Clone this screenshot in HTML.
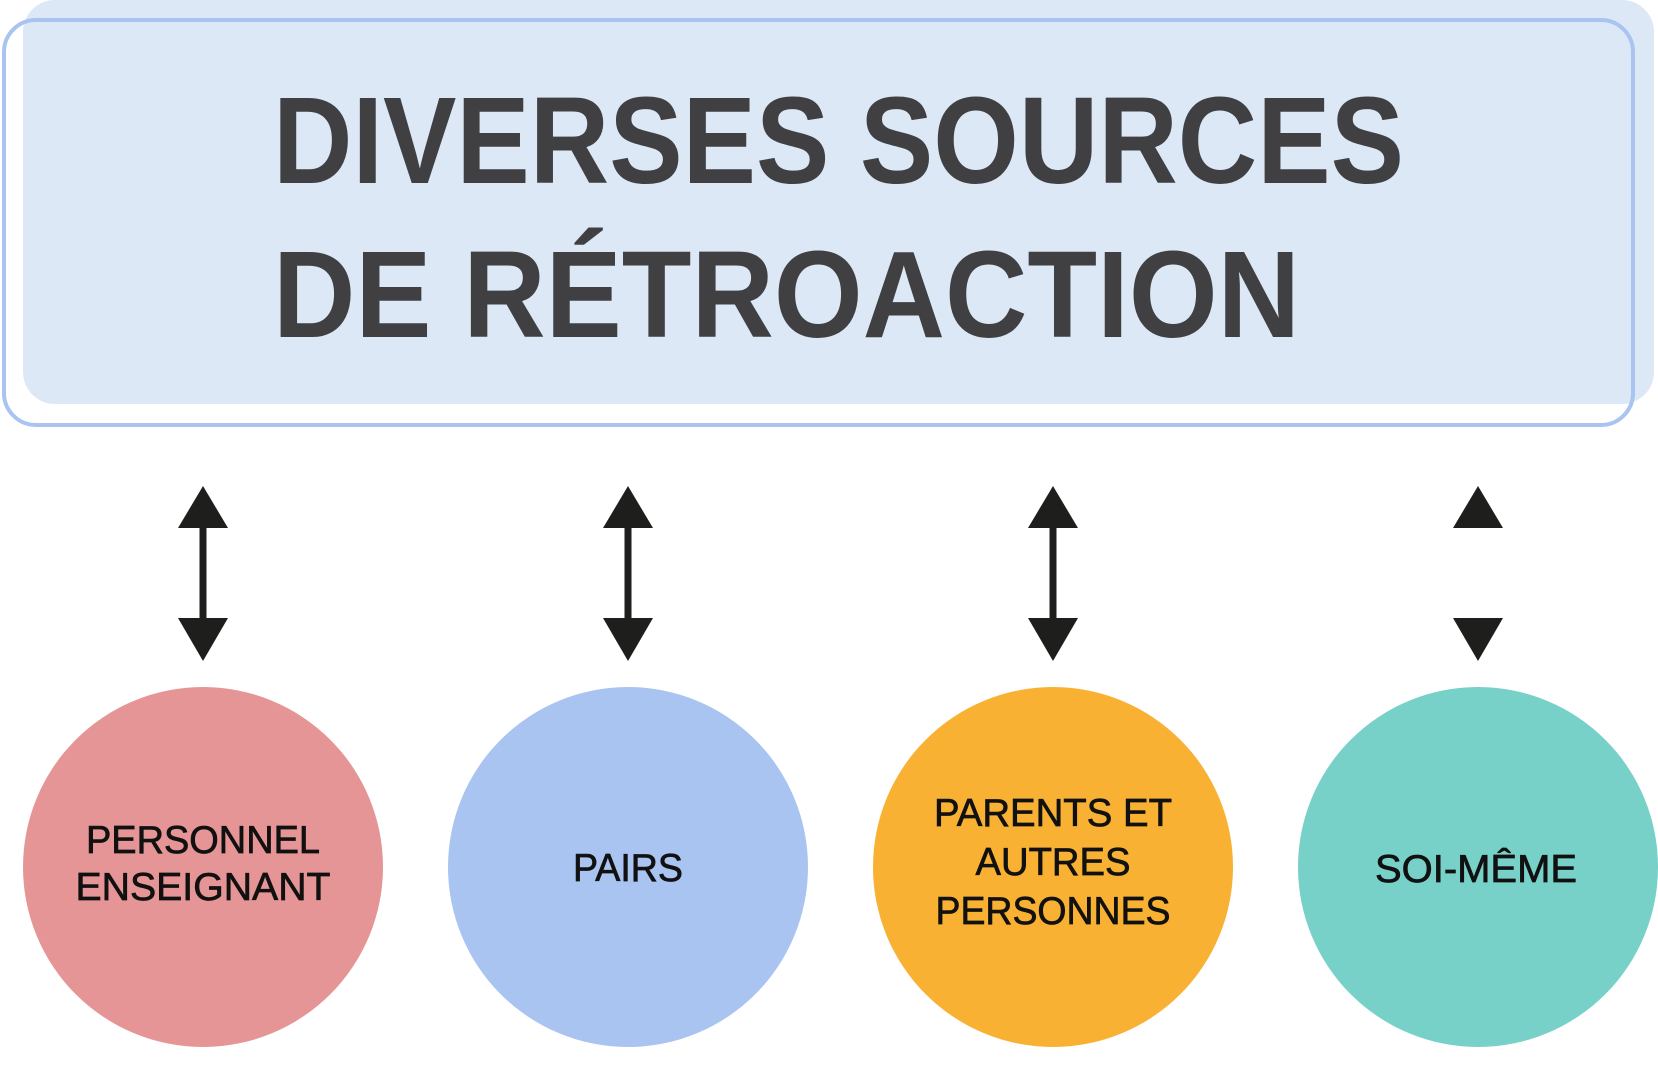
<!DOCTYPE html>
<html><head><meta charset="utf-8"><style>html,body{margin:0;padding:0;background:#fff;width:1658px;height:1080px;overflow:hidden}</style></head>
<body>
<svg width="1658" height="1080" viewBox="0 0 1658 1080" xmlns="http://www.w3.org/2000/svg">
<rect x="23" y="0" width="1631" height="404" rx="32" fill="#dce8f5"/>
<rect x="4" y="20" width="1629" height="405" rx="32" fill="none" stroke="#a9c4f0" stroke-width="4"/>
<g font-family="Liberation Sans, sans-serif" font-weight="bold" fill="#404043" font-size="123">
<text x="273" y="183" textLength="1131" lengthAdjust="spacingAndGlyphs">DIVERSES SOURCES</text>
<text x="273" y="337" textLength="1027" lengthAdjust="spacingAndGlyphs">DE RÉTROACTION</text>
</g>
<g fill="#1e1e1c" stroke="none">
<g id="a"><polygon points="203,486 178,528 228,528"/><polygon points="203,661 178,618 228,618"/><rect x="199.5" y="526" width="7" height="94"/></g>
<use href="#a" x="425"/>
<use href="#a" x="850"/>
<polygon points="1478,486 1453,528 1503,528"/><polygon points="1478,661 1453,618 1503,618"/>
</g>
<circle cx="203" cy="867" r="180" fill="#e59595"/>
<circle cx="628" cy="867" r="180" fill="#a9c4f0"/>
<circle cx="1053" cy="867" r="180" fill="#f8b133"/>
<circle cx="1478" cy="867" r="180" fill="#77d1c8"/>
<g font-family="Liberation Sans, sans-serif" fill="#111" stroke="#111" stroke-width="0.7" font-size="39" text-anchor="middle">
<text x="203" y="853" textLength="234" lengthAdjust="spacingAndGlyphs">PERSONNEL</text>
<text x="203" y="900" textLength="255" lengthAdjust="spacingAndGlyphs">ENSEIGNANT</text>
<text x="628" y="881" textLength="110" lengthAdjust="spacingAndGlyphs">PAIRS</text>
<text x="1053" y="826" textLength="238" lengthAdjust="spacingAndGlyphs">PARENTS ET</text>
<text x="1053" y="875" textLength="155" lengthAdjust="spacingAndGlyphs">AUTRES</text>
<text x="1053" y="924" textLength="235" lengthAdjust="spacingAndGlyphs">PERSONNES</text>
<text x="1476" y="882" textLength="202" lengthAdjust="spacingAndGlyphs">SOI-MÊME</text>
</g>
</svg>
</body></html>
